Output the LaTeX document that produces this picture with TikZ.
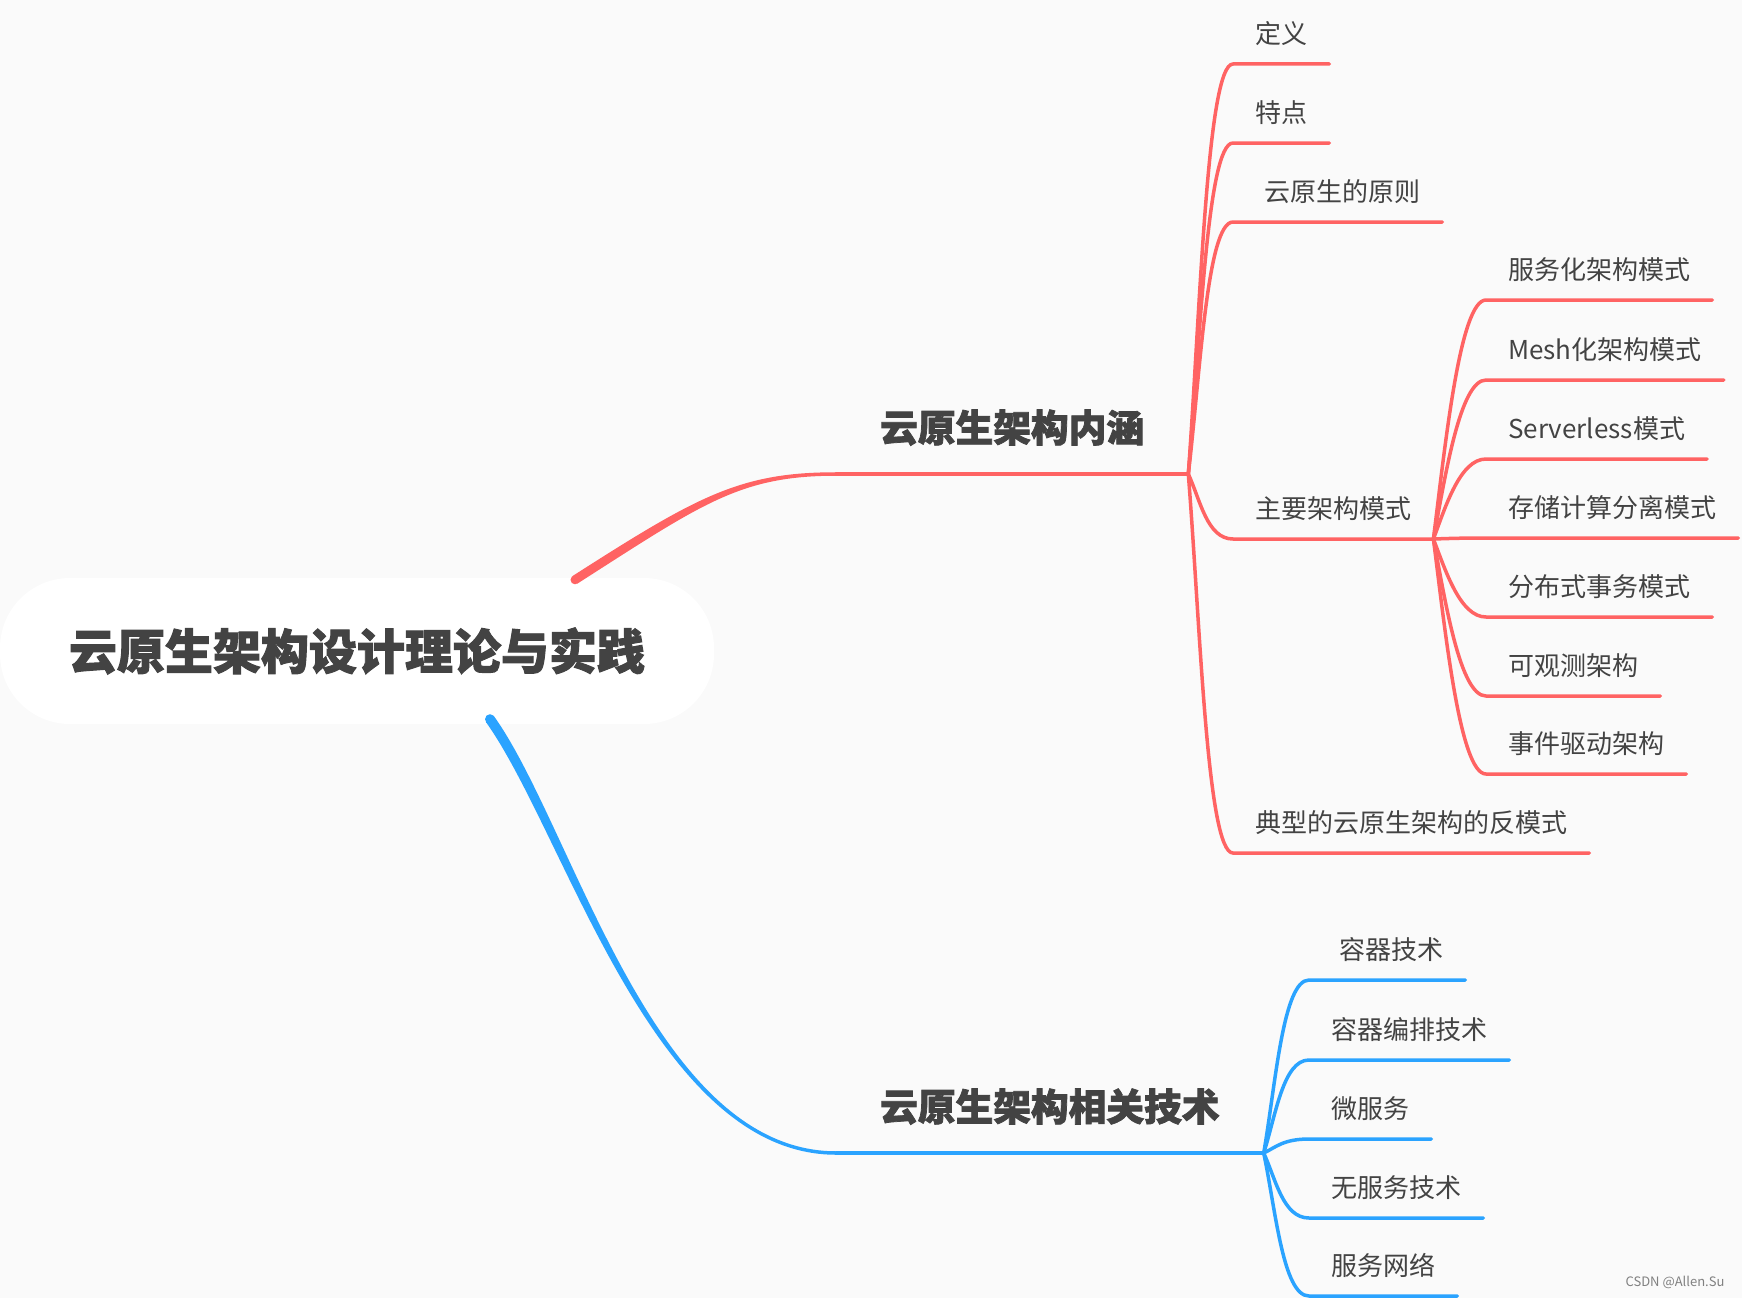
\documentclass[tikz,border=0pt]{standalone}
\usepackage{fontspec}
\newfontfamily\cjk{Noto Sans CJK SC}
\newfontfamily\cjkheavy{Noto Sans CJK SC}[FakeBold=2]
\usetikzlibrary{calc}
\definecolor{redline}{HTML}{FF6363}
\definecolor{blueline}{HTML}{2AA3FF}
\definecolor{txt}{HTML}{434343}
\definecolor{bg}{HTML}{FAFAFA}
\tikzset{
  rootbox/.style={fill=white, rounded corners=70pt, minimum width=714pt, minimum height=146pt,
    text=txt, font=\cjkheavy\bfseries\fontsize{48}{48}\selectfont},
  topic/.style={anchor=south west, inner xsep=44pt, inner ysep=32pt, text depth=0pt,
    text=txt, font=\cjkheavy\bfseries\fontsize{37.7}{38}\selectfont},
  leaf/.style={anchor=south west, inner xsep=22pt, inner ysep=20pt, text depth=0pt,
    text=txt, font=\cjk\fontsize{26}{26}\selectfont},
  branch/.style={to path={.. controls ($(\tikztostart)!0.4!(\tikztostart|-\tikztotarget)+(12,0)$)
    and ($(\tikztotarget)+(-26,0)$) .. (\tikztotarget)}},
  red/.style={draw=redline, line width=3.5pt, line cap=round},
  blue/.style={draw=blueline, line width=3.5pt, line cap=round}
}
\begin{document}
\begin{tikzpicture}[x=1pt, y=-1pt]
    \useasboundingbox (0,0) rectangle (1742,1298);
    \fill[bg] (0,0) rectangle (1742,1298);
    \node[rootbox] (root) at (357,651) {云原生架构设计理论与实践};
    \coordinate (rootr) at ($(root.north)+(218,2)$);
    \coordinate (rootb) at ($(root.south)+(133,-5)$);
    \node[topic] (neihan) at (836,474) {云原生架构内涵};
    \node[topic] (jishu) at (836,1153) {云原生架构相关技术};
    \node[leaf] (dingyi) at (1233,64) {定义};
    \node[leaf] (tedian) at (1233,143) {特点};
    \node[leaf] (yuanze) at (1233,222) {\hspace*{9pt}云原生的原则};
    \node[leaf] (moshi) at (1233,539) {主要架构模式};
    \node[leaf] (fanmoshi) at (1233,853) {典型的云原生架构的反模式};
    \node[leaf] (fuwuhua) at (1486,300) {服务化架构模式};
    \node[leaf] (mesh) at (1486,380) {Mesh化架构模式};
    \node[leaf] (serverless) at (1486,459) {Serverless模式};
    \node[leaf] (cunchu) at (1486,538) {存储计算分离模式};
    \node[leaf] (fenbushi) at (1486,617) {分布式事务模式};
    \node[leaf] (guance) at (1486,696) {可观测架构};
    \node[leaf] (shijian) at (1486,774) {事件驱动架构};
    \node[leaf] (rongqi) at (1309,980) {\hspace*{8pt}容器技术};
    \node[leaf] (bianpai) at (1309,1060) {容器编排技术};
    \node[leaf] (weifuwu) at (1309,1139) {微服务};
    \node[leaf] (wufuwu) at (1309,1218) {无服务技术};
    \node[leaf] (wangluo) at (1309,1296) {服务网络};
    \node[anchor=east, text=gray, font=\cjk\fontsize{13}{13}\selectfont] (csdn) at (1728,1282) {CSDN @Allen.Su};
    % main branches, thick at the root end
    \fill[redline] ($(rootr)+(-2.4,-3.8)$) .. controls +(125,-80) and +(-96,0) .. ($(neihan.south west)+(0,-1.75)$)
      -- ($(neihan.south west)+(0,1.75)$) .. controls +(-96,0) and +(125,-80) .. ($(rootr)+(2.4,3.8)$) -- cycle;
    \fill[redline] (rootr) circle (4.5pt);
    \fill[blueline] ($(rootb)+(4.05,-2.9)$) .. controls +(80,112) and +(-183,0) .. ($(jishu.south west)+(0,-1.75)$)
      -- ($(jishu.south west)+(0,1.75)$) .. controls +(-183,0) and +(80,112) .. ($(rootb)+(-4.05,2.9)$) -- cycle;
    \fill[blueline] (rootb) circle (5pt);
    \draw[red] (neihan.south west) -- (neihan.south east);
    \draw[blue] (jishu.south west) -- (jishu.south east);
    \foreach \n in {dingyi,tedian,yuanze,moshi,fanmoshi} {
      \draw[red] (neihan.south east) to[branch] (\n.south west) -- (\n.south east);
    }
    \foreach \n in {fuwuhua,mesh,serverless,cunchu,fenbushi,guance,shijian} {
      \draw[red] (moshi.south east) to[branch] (\n.south west) -- (\n.south east);
    }
    \foreach \n in {rongqi,bianpai,weifuwu,wufuwu,wangluo} {
      \draw[blue] (jishu.south east) to[branch] (\n.south west) -- (\n.south east);
    }
\end{tikzpicture}
\end{document}
